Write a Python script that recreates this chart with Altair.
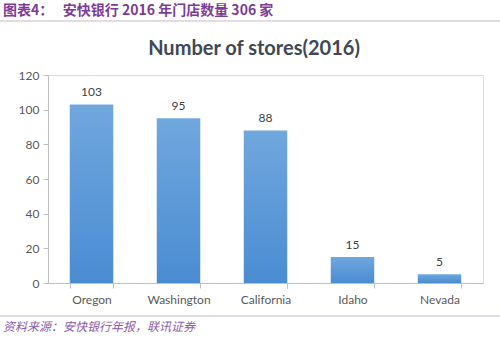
import altair as alt
import pandas as pd

states = ["Oregon", "Washington", "California", "Idaho", "Nevada"]
stores = [103, 95, 88, 15, 5]
y_ticks = [0, 20, 40, 60, 80, 100, 120]

header_text = "图表4：\u00a0\u00a0\u00a0安快银行 2016 年门店数量 306 家"
source_text = "资料来源：安快银行年报，联讯证券"
chart_title = "Number of stores(2016)"

df = pd.DataFrame({"state": states, "stores": stores})
one = pd.DataFrame({"a": [0]})

x_enc = alt.X("state:N", sort=states, title=None,
              scale=alt.Scale(paddingInner=0.5, paddingOuter=0.25),
              axis=alt.Axis(labelAngle=0, labelFont="Lato", labelFontSize=12,
                            labelColor="#595959", domainColor="#BFBFBF",
                            tickColor="#BFBFBF", tickSize=5, tickBand="extent",
                            labelPadding=6))
y_enc = alt.Y("stores:Q", title=None,
              scale=alt.Scale(domain=[0, 120], nice=False),
              axis=alt.Axis(values=y_ticks, labelOverlap=False, labelFont="Lato",
                            labelFontSize=12, labelColor="#595959",
                            domainColor="#BFBFBF", tickColor="#BFBFBF",
                            tickSize=5, grid=False, labelPadding=4))

gradient = alt.Gradient(
    gradient="linear", x1=0, y1=0, x2=0, y2=1,
    stops=[alt.GradientStop(color="#70A7DE", offset=0),
           alt.GradientStop(color="#4A8CD2", offset=1)])

base = alt.Chart(df).encode(x=x_enc, y=y_enc)
bars = base.mark_bar(color=gradient)
labels = base.mark_text(dy=-12, font="Lato", fontSize=12,
                        color="#404040").encode(text="stores:Q")

title_mark = alt.Chart(one).mark_text(text=chart_title, align="center",
                                      baseline="alphabetic", font="Lato",
                                      fontSize=20, fontWeight="bold",
                                      color="#404858").encode(
    x=alt.value(206), y=alt.value(-20))
header = alt.Chart(one).mark_text(text=header_text, align="left", baseline="middle",
                                  font="Noto Sans CJK SC", fontWeight="bold",
                                  fontSize=14, color="#7D3C98").encode(
    x=alt.value(-45), y=alt.value(-64))
header_line = alt.Chart(one).mark_rule(color="#D4D0DA", strokeWidth=1.5).encode(
    x=alt.value(-48), x2=alt.value(452), y=alt.value(-54))
footer_line = alt.Chart(one).mark_rule(color="#D4D0DA", strokeWidth=1.5).encode(
    x=alt.value(-48), x2=alt.value(452), y=alt.value(241))
footer = alt.Chart(one).mark_text(text=source_text, align="left", baseline="middle",
                                  font="Noto Sans CJK SC", fontStyle="italic",
                                  fontSize=12, color="#8E5BAA").encode(
    x=alt.value(-45), y=alt.value(252))

chart = alt.layer(bars, labels, title_mark, header, header_line, footer_line,
                  footer).properties(
    width=435, height=208,
    autosize=alt.AutoSizeParams(type="none"),
    padding={"left": 48, "top": 75, "right": 17, "bottom": 70},
).configure_view(stroke=None).configure(background="white")

chart.save("out.html", embed_options={"renderer": "svg", "actions": False})
